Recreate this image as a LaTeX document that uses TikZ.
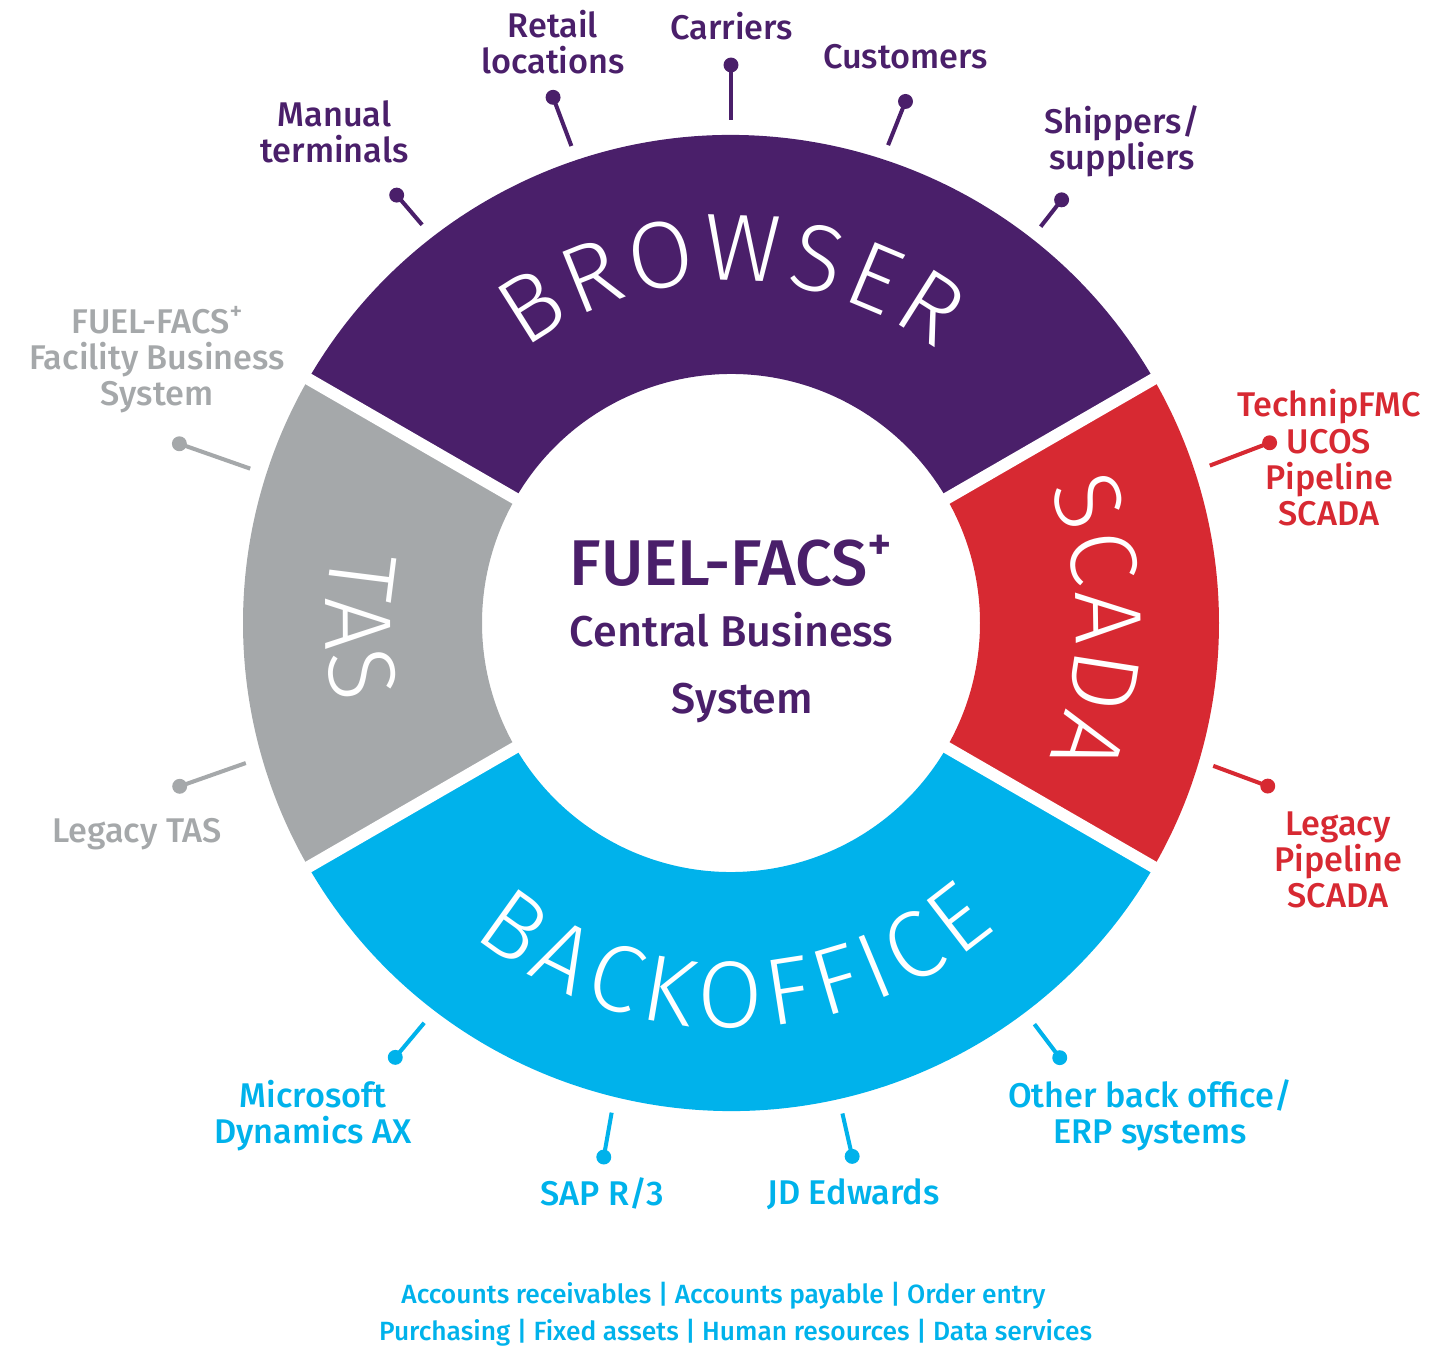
\documentclass[tikz,border=0pt]{standalone}
\usepackage{fontspec}
\usetikzlibrary{decorations.text}
\IfFontExistsTF{Fira Sans Medium}{\setmainfont{Fira Sans Medium}}{\setmainfont{Fira Sans}}
\IfFontExistsTF{Fira Sans Light}{\newfontfamily\ringfont{Fira Sans Light}}{\newfontfamily\ringfont{Fira Sans}}
\definecolor{fbpurple}{RGB}{74,31,106}
\definecolor{fbred}{RGB}{215,41,50}
\definecolor{fbgray}{RGB}{165,168,170}
\definecolor{fbcyan}{RGB}{0,178,235}

\begin{document}
\begin{tikzpicture}[x=0.02cm, y=0.02cm,
	stalk/.style={line width=2.3pt},
	knob/.style={circle, fill, inner sep=0pt, minimum size=8.5pt},
	tag/.style={align=center, anchor=base, inner sep=0pt, font=\fontsize{19.5}{20.6}\selectfont},
	hubtext/.style={anchor=base, inner sep=0pt, text=fbpurple, font=\fontsize{24.5}{25}\selectfont},
	ringword/.style={decorate, decoration={text along path, text align={fit to path}, text color=white,
		text={|\ringfont\fontsize{54}{54}\selectfont|#1}}}]
	   \useasboundingbox (-731,-722) rectangle (721,623);
	   % ring
	   \fill[fbpurple] (30:488) arc[start angle=30, end angle=150, radius=488] -- (150:249) arc[start angle=150, end angle=30, radius=249] -- cycle;
	   \fill[fbgray] (150:488) arc[start angle=150, end angle=210, radius=488] -- (210:249) arc[start angle=210, end angle=150, radius=249] -- cycle;
	   \fill[fbcyan] (210:488) arc[start angle=210, end angle=330, radius=488] -- (330:249) arc[start angle=330, end angle=210, radius=249] -- cycle;
	   \fill[fbred] (-30:488) arc[start angle=-30, end angle=30, radius=488] -- (30:249) arc[start angle=30, end angle=-30, radius=249] -- cycle;
	   \draw[white, line width=6.8pt] (30:240) -- (30:500) (150:240) -- (150:500) (210:240) -- (210:500) (330:240) -- (330:500);
	   \path[ringword=BROWSER] (127:342) arc[start angle=127, end angle=53, radius=342];
	   \path[ringword=SCADA] (23:345) arc[start angle=23, end angle=-23, radius=345];
	   \path[ringword=TAS] (169.5:405) arc[start angle=169.5, end angle=191.5, radius=405];
	   \path[ringword=BACKOFFICE] (230.5:405) arc[start angle=230.5, end angle=311, radius=405];

	   % centre
	   \node[hubtext, font=\fontsize{36.8}{37}\selectfont] (hubname) at (0,38) {FUEL-FACS\raisebox{14pt}{\fontsize{27}{27}\selectfont+}};
	   \node[hubtext] (hubline1) at (0.7,-23.7) {Central Business};
	   \node[hubtext] (hubline2) at (11.5,-90) {System};

	   % labels (anchored at the baseline of their last line)
	   \node[tag, text=fbpurple] (manual) at (-396.5,460.7) {Manual\\terminals};
	   \node[tag, text=fbpurple] (retail) at (-178,549.7) {Retail\\locations};
	   \node[tag, text=fbpurple] (carriers) at (0.5,583.7) {Carriers};
	   \node[tag, text=fbpurple] (customers) at (174.5,554.7) {Customers};
	   \node[tag, text=fbpurple] (shippers) at (391,453) {Shippers/\\suppliers};
	   \node[tag, text=fbgray] (facility) at (-574,217) {FUEL-FACS\raisebox{8pt}{\fontsize{14}{14}\selectfont+}\\Facility Business\\System};
	   \node[tag, text=fbgray] (legacytas) at (-594,-219) {Legacy TAS};
	   \node[tag, text=fbred] (technip) at (598,97.6) {TechnipFMC\\UCOS\\Pipeline\\SCADA};
	   \node[tag, text=fbred] (legacypipe) at (607,-284.5) {Legacy\\Pipeline\\SCADA};
	   \node[tag, text=fbcyan] (microsoft) at (-418,-520.3) {Microsoft\\Dynamics AX};
	   \node[tag, text=fbcyan] (sap) at (-129,-582) {SAP R/3};
	   \node[tag, text=fbcyan] (jde) at (122.6,-581) {JD Edwards};
	   \node[tag, text=fbcyan] (otherbo) at (419,-520.3) {Other back office/\\ERP systems};
	   \node[tag, text=fbcyan, font=\fontsize{15}{20.8}\selectfont] (modules1) at (-7.5,-680.3) {Accounts receivables | Accounts payable | Order entry};
	   \node[tag, text=fbcyan, font=\fontsize{15}{20.8}\selectfont] (modules2) at (4.6,-717) {Purchasing | Fixed assets | Human resources | Data services};

	   % connectors
	   \coordinate (manual-end) at (127.8:504);
	   \coordinate (retail-end) at (108.5:503);
	   \coordinate (carriers-end) at (90:503);
	   \coordinate (customers-end) at (71.8:503);
	   \coordinate (shippers-end) at (52:503);
	   \coordinate (facility-end) at (162.2:505);
	   \coordinate (legacytas-end) at (196.1:505);
	   \coordinate (technip-end) at (18.2:504);
	   \coordinate (legacypipe-end) at (-16.5:503);
	   \coordinate (microsoft-end) at (232.5:504);
	   \coordinate (sap-end) at (256.3:504);
	   \coordinate (jde-end) at (282.8:503);
	   \coordinate (otherbo-end) at (307.1:503);

	   \node[knob, fbpurple] (manual-dot) at (128:543) {};
	   \node[knob, fbpurple] (retail-dot) at (108.7:555) {};
	   \node[knob, fbpurple] (carriers-dot) at (90:558) {};
	   \node[knob, fbpurple] (customers-dot) at (71.5:550) {};
	   \node[knob, fbpurple] (shippers-dot) at (52:537) {};
	   \node[knob, fbgray] (facility-dot) at (162:580) {};
	   \node[knob, fbgray] (legacytas-dot) at (196.5:575) {};
	   \node[knob, fbred] (technip-dot) at (18.5:568) {};
	   \node[knob, fbred] (legacypipe-dot) at (-16.9:561) {};
	   \node[knob, fbcyan] (microsoft-dot) at (232.3:549) {};
	   \node[knob, fbcyan] (sap-dot) at (256.6:549) {};
	   \node[knob, fbcyan] (jde-dot) at (282.8:547) {};
	   \node[knob, fbcyan] (otherbo-dot) at (307.1:545) {};

	   \draw[stalk, fbpurple] (manual-end) -- (manual-dot.center);
	   \draw[stalk, fbpurple] (retail-end) -- (retail-dot.center);
	   \draw[stalk, fbpurple] (carriers-end) -- (carriers-dot.center);
	   \draw[stalk, fbpurple] (customers-end) -- (customers-dot.center);
	   \draw[stalk, fbpurple] (shippers-end) -- (shippers-dot.center);
	   \draw[stalk, fbgray] (facility-end) -- (facility-dot.center);
	   \draw[stalk, fbgray] (legacytas-end) -- (legacytas-dot.center);
	   \draw[stalk, fbred] (technip-end) -- (technip-dot.center);
	   \draw[stalk, fbred] (legacypipe-end) -- (legacypipe-dot.center);
	   \draw[stalk, fbcyan] (microsoft-end) -- (microsoft-dot.center);
	   \draw[stalk, fbcyan] (sap-end) -- (sap-dot.center);
	   \draw[stalk, fbcyan] (jde-end) -- (jde-dot.center);
	   \draw[stalk, fbcyan] (otherbo-end) -- (otherbo-dot.center);
\end{tikzpicture}
\end{document}
